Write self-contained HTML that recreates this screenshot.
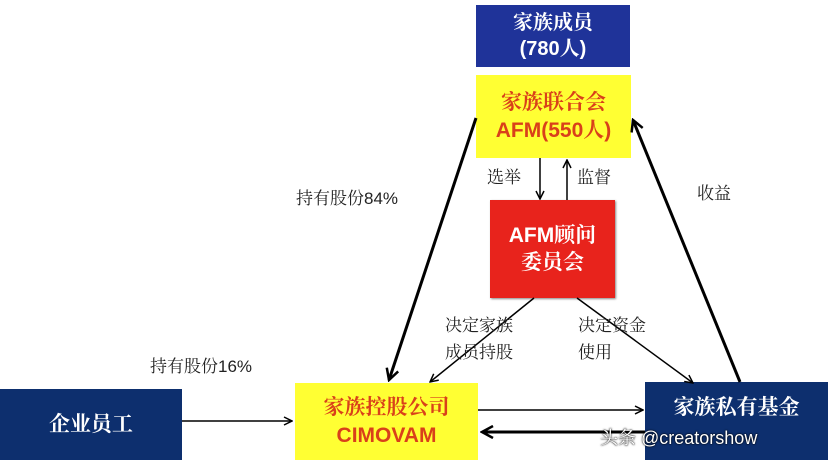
<!DOCTYPE html>
<html><head><meta charset="utf-8"><style>
body{margin:0;width:828px;height:460px;background:#fff;position:relative;overflow:hidden;font-family:"Liberation Sans","Noto Serif CJK SC",sans-serif}
.b{position:absolute;display:flex;flex-direction:column;align-items:center;justify-content:center;text-align:center;font-weight:bold;line-height:1.3}
.t{position:absolute;font-size:17px;color:#222;font-family:"Liberation Sans","Noto Serif CJK SC",sans-serif;line-height:27px}
</style></head><body>
<div class="b" style="left:476px;top:5px;width:154px;height:62px;background:#1f3399;color:#fff;font-size:20px">家族成员<br>(780人)</div>
<div class="b" style="left:476px;top:75px;width:155px;height:83px;background:#ffff33;color:#d9401a;font-size:21px">家族联合会<br>AFM(550人)</div>
<div class="b" style="left:490px;top:200px;width:125px;height:98px;background:#e8231c;color:#fff;font-size:21px;box-shadow:1px 1px 2px #888">AFM顾问<br>委员会</div>
<div class="b" style="left:0;top:389px;width:182px;height:71px;background:#0d2f6e;color:#fff;font-size:21px">企业员工</div>
<div class="b" style="left:295px;top:383px;width:183px;height:77px;background:#ffff33;color:#d9401a;font-size:21px">家族控股公司<br>CIMOVAM</div>
<div class="b" style="left:645px;top:382px;width:183px;height:78px;background:#0d2f6e;color:#fff;font-size:21px;justify-content:flex-start;padding-top:12px;box-sizing:border-box">家族私有基金</div>
<svg width="828" height="460" style="position:absolute;left:0;top:0">
<defs><marker id="a" markerWidth="10" markerHeight="10" refX="9" refY="5" orient="auto" markerUnits="userSpaceOnUse"><path d="M1,1 L9,5 L1,9" fill="none" stroke="#000" stroke-width="1.5"/></marker>
<marker id="c" markerWidth="14" markerHeight="14" refX="12" refY="7" orient="auto" markerUnits="userSpaceOnUse"><path d="M1,1 L12,7 L1,13" fill="none" stroke="#000" stroke-width="2.5"/></marker></defs>
<g stroke="#000" fill="none">
<line x1="540" y1="158" x2="540" y2="199" stroke-width="1.5" marker-end="url(#a)"/>
<line x1="567" y1="200" x2="567" y2="160" stroke-width="1.5" marker-end="url(#a)"/>
<line x1="476" y1="118" x2="389" y2="380" stroke-width="3" marker-end="url(#c)"/>
<line x1="740" y1="382" x2="633" y2="120" stroke-width="3" marker-end="url(#c)"/>
<line x1="534" y1="298" x2="430" y2="382" stroke-width="1.5" marker-end="url(#a)"/>
<line x1="577" y1="298" x2="693" y2="383" stroke-width="1.5" marker-end="url(#a)"/>
<line x1="182" y1="421" x2="292" y2="421" stroke-width="1.5" marker-end="url(#a)"/>
<line x1="478" y1="410" x2="643" y2="410" stroke-width="1.5" marker-end="url(#a)"/>
<line x1="645" y1="432" x2="482" y2="432" stroke-width="3" marker-end="url(#c)"/>
</g></svg>
<div class="t" style="left:487px;top:164px">选举</div>
<div class="t" style="left:577px;top:164px">监督</div>
<div class="t" style="left:296px;top:185px">持有股份84%</div>
<div class="t" style="left:697px;top:180px">收益</div>
<div class="t" style="left:445px;top:312px">决定家族<br>成员持股</div>
<div class="t" style="left:578px;top:312px">决定资金<br>使用</div>
<div class="t" style="left:150px;top:353px">持有股份16%</div>
<div style="position:absolute;left:600px;top:424px;font-size:18px;color:#fff;text-shadow:0 0 2px #000,0 0 1px #000">头条 @creatorshow</div>
</body></html>
